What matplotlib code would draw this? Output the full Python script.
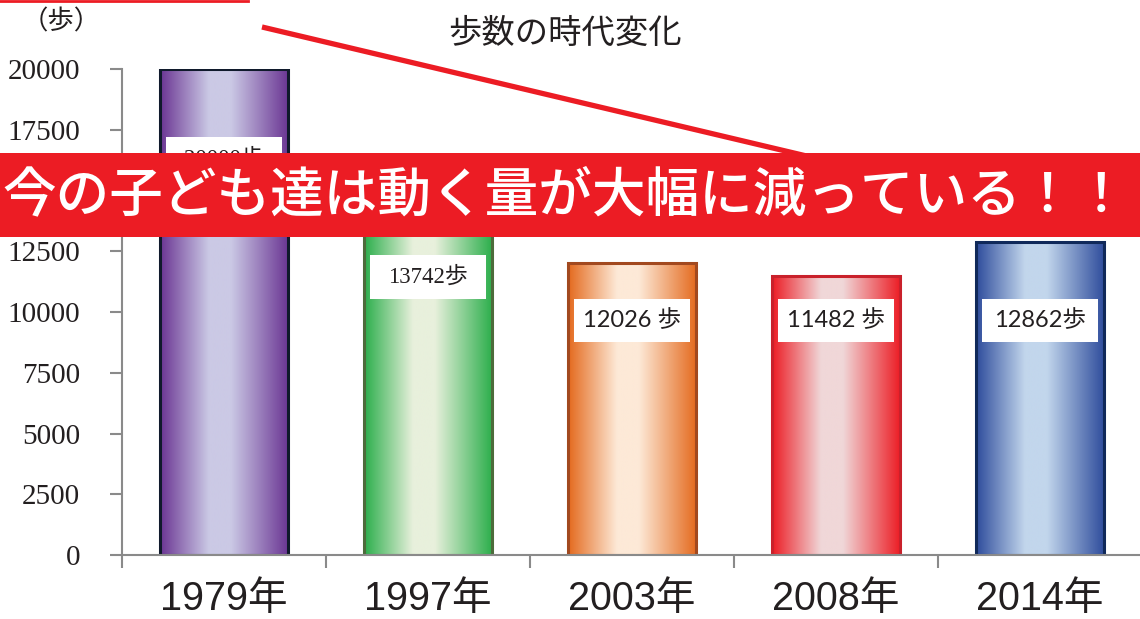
import numpy as np
import matplotlib
matplotlib.use("Agg")
import matplotlib.pyplot as plt
from matplotlib.patches import Rectangle
from matplotlib.lines import Line2D
from matplotlib.colors import to_rgb

# ---- data ----
years = ["1979年", "1997年", "2003年", "2008年", "2014年"]
steps = [20000, 13742, 12026, 11482, 12862]
value_labels = ["20000歩", "13742歩", "12026 歩", "11482 歩", "12862歩"]
yticks = [0, 2500, 5000, 7500, 10000, 12500, 15000, 17500, 20000]
hidden_ticks = [15000]  # covered by the banner in the reference
title = "歩数の時代変化"
unit_label = "（歩）"
banner = "今の子ども達は動く量が大幅に減っている！！"

# ---- style ----
edge_cols = ["#6a3593", "#2bae4b", "#e46a1e", "#ec1c24", "#2e4c9c"]
mid_cols = ["#cbc9e5", "#e8f0dc", "#fde9d7", "#f0d7d8", "#c2d6ec"]
border_cols = ["#101a2c", "#4d6b3b", "#a2491f", "#c9212b", "#10295a"]
label_fonts = [["Liberation Serif", "Noto Sans CJK JP"],
               ["Liberation Serif", "Noto Sans CJK JP"],
               ["Lato", "Noto Sans CJK JP"],
               ["Lato", "Noto Sans CJK JP"],
               ["Lato", "Noto Sans CJK JP"]]
label_sizes = [16.5, 16.5, 17, 17, 17]
label_yc = [16300, 11450, 9650, 9650, 9650]
label_h = 1800
label_w = 0.57
bar_w = 0.63
TXT = "#231f20"
GRAY = "#8a8a8a"

W, H = 1140, 619
fig = plt.figure(figsize=(W / 100, H / 100), dpi=100)
ax = fig.add_axes([122 / W, 1 - 555 / H, 1020 / W, 486 / H])
ax.set_xlim(-0.5, 4.5)
ax.set_ylim(0, 20000)

x = np.arange(len(years))
bars = ax.bar(x, steps, width=bar_w, facecolor="none",
              edgecolor=border_cols, linewidth=2.2, zorder=3)

t = np.linspace(0, 1, 200)
stops = [0.0, 0.38, 0.55, 1.0]
for i, b in enumerate(bars):
    e = np.array(to_rgb(edge_cols[i]))
    m = np.array(to_rgb(mid_cols[i]))
    w = np.interp(t, stops, [0.0, 1.0, 1.0, 0.0])
    img = (e[None, :] * (1 - w[:, None]) + m[None, :] * w[:, None])[None, :, :]
    x0 = b.get_x()
    ax.imshow(img, extent=(x0, x0 + b.get_width(), 0, b.get_height()),
              aspect="auto", zorder=2, interpolation="bilinear")

for i in range(len(years)):
    ax.add_patch(Rectangle((x[i] - label_w / 2, label_yc[i] - label_h / 2),
                           label_w, label_h, facecolor="white",
                           edgecolor="none", zorder=4))
    ax.text(x[i], label_yc[i], value_labels[i], ha="center", va="center",
            fontsize=label_sizes[i], color=TXT, family=label_fonts[i], zorder=5)

ax.set_xlim(-0.5, 4.5)
ax.set_ylim(0, 20000)

for s in ["top", "right"]:
    ax.spines[s].set_visible(False)
for s in ["left", "bottom"]:
    ax.spines[s].set_color(GRAY)
    ax.spines[s].set_linewidth(1.5)
    ax.spines[s].set_zorder(6)

ax.set_yticks(yticks)
ax.set_yticklabels(["" if v in hidden_ticks else str(v) for v in yticks],
                   family="Liberation Serif", fontsize=21, color=TXT)
ax.tick_params(axis="y", length=9, width=1.5, color=GRAY, pad=21)

ax.set_xticks(np.arange(-0.5, 5, 1.0))
ax.set_xticklabels([])
ax.tick_params(axis="x", which="major", length=9, width=1.5, color=GRAY)
ax.set_xticks(x, minor=True)
ax.set_xticklabels(years, minor=True,
                   family=["Liberation Sans", "Noto Sans CJK JP"],
                   fontsize=28.5, color=TXT)
ax.tick_params(axis="x", which="minor", length=0, pad=18)

fig.text(565 / W, 1 - 33 / H, title, ha="center", va="center",
         fontsize=24, color=TXT, family="Noto Sans CJK JP")
fig.text(61 / W, 1 - 22 / H, unit_label, ha="center", va="center",
         fontsize=19, color=TXT, family="Noto Sans CJK JP")

# red decorations
fig.add_artist(Line2D([0, 248 / W], [1 - 1 / H, 1 - 1 / H], color="#ec1c24",
                      lw=2, transform=fig.transFigure, zorder=10))
fig.add_artist(Line2D([262 / W, 815 / W], [1 - 27 / H, 1 - 158 / H],
                      color="#ec1c24", lw=3.8, transform=fig.transFigure,
                      zorder=10, solid_capstyle="butt"))
fig.add_artist(Rectangle((0, 1 - 237 / H), 1, 84 / H, facecolor="#ec1c24",
                         edgecolor="none", transform=fig.transFigure, zorder=11))
fig.text(565 / W, 1 - 196 / H, banner, ha="center", va="center",
         fontsize=38.6, color="white", family="Noto Sans CJK JP",
         fontweight="medium", zorder=12)

fig.savefig("out.png", dpi=100, facecolor="white")
